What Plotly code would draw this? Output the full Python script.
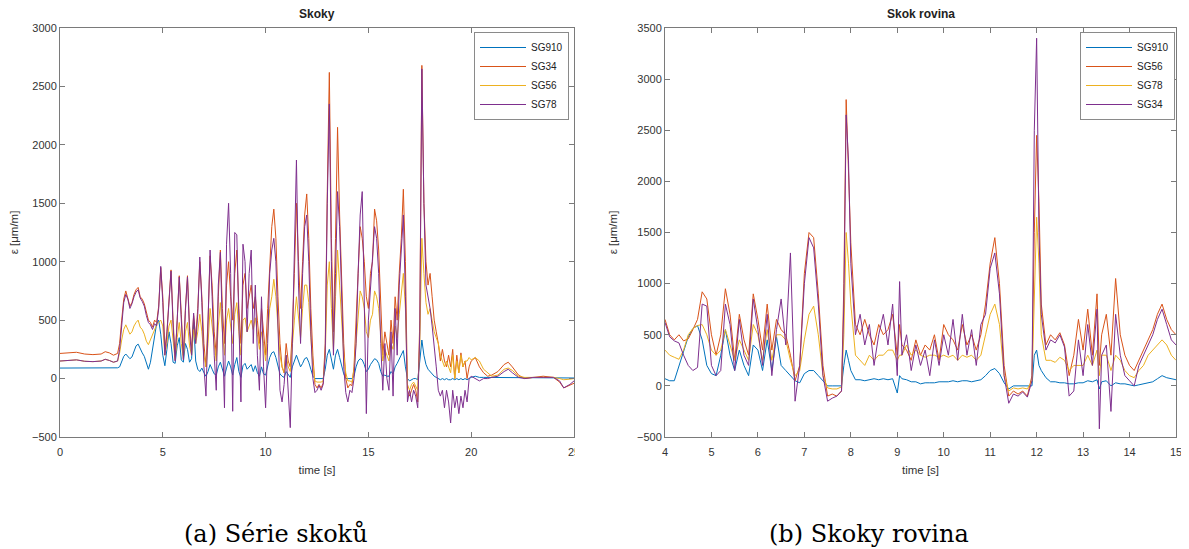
import plotly.graph_objects as go

# ---------------- Left chart: "Skoky" ----------------
left_t = [0, 0.4, 0.8, 1.2, 1.6, 2.0, 2.2, 2.4, 2.6, 2.8] \
    + [round(2.9 + 0.1 * i, 1) for i in range(172)] \
    + [20.2, 20.4, 20.6, 20.8, 21.0, 21.3, 21.6, 21.8, 22.0, 22.3,
       22.6, 23.0, 23.5, 24.0, 24.3, 24.5, 24.8, 25.0]

left_sg910 = [90, 90, 90, 90, 90, 90, 90, 90, 90, 92,
              100, 140, 190, 210, 190, 170, 185, 240, 280, 295,
              250, 220, 190, 130, 80, 140, 260, 380, 470, 500,
              380, 200, 110, 250, 400, 300, 140, 130, 280, 350,
              160, 140, 300, 250, 140, 170, 480, 150, 80, 60,
              90, 50, 20, 60, 120, 80, 40, 30, 100, 140,
              70, 20, 90, 150, 100, 30, 120, 180, 60, 10,
              110, 130, 80, 100, 120, 60, 110, 50, 20, 100,
              40, 30, 120, 180, 220, 230, 180, 100, 40, 20,
              10, 60, 30, 10, 100, 150, 200, 150, 100, 130,
              170, 180, 140, 80, 20, 0, 0, 0, 0, 0,
              80, 200, 250, 150, 80, 200, 250, 180, 100, 40,
              0, 0, 0, 0, 20, 100, 150, 170, 160, 120,
              60, 80, 120, 150, 170, 160, 130, 60, 20, 30,
              20, 20, 60, 40, 100, 130, 170, 200, 240, 100,
              0, -20, -10, 0, 0, -10, 150, 330, 200, 120,
              80, 60, 40, 20, 10, 0, -10, 0, -10, 0,
              -10, -10, 0, -10, 0, -10, 0, -10, 0, -10,
              0, 10,
              20, 10, 10, 10, 10, 10, 10, 10, 10, 10, 10, 10, 10, 10, 5, 5, 5, 5]

left_sg34 = [215, 220, 225, 210, 205, 210, 230, 220, 200, 215,
             300, 500, 680, 750, 690, 620, 650, 720, 760, 780,
             700, 680, 640, 560, 500, 480, 440, 500, 480, 620,
             950, 700, 250, 400, 700, 930, 500, 180, 500, 880,
             550, 200, 600, 880, 450, 250, 540, 350, 600, 1000,
             700, 300, 100, 500, 1050, 800, 400, 200, 700, 1100,
             600, 300, 800, 1000, 700, 500, 900, 1100, 600, 300,
             800, 900, 600, 700, 800, 600, 700, 500, 300, 600,
             400, 200, 600, 1000, 1300, 1450, 1200, 700, 300, 100,
             50, 300, 150, 100, 400, 900, 1500, 1000, 600, 1000,
             1400, 1580, 1200, 600, 200, -50, -80, -50, -80, -40,
             300, 1600, 2620, 1200, 400, 1200, 2150, 1400, 800, 300,
             0, -80, -50, -60, 100, 500, 1000, 1300, 1200, 1000,
             700, 600, 900, 1000, 1450, 1350, 1100, 600, 200, 400,
             300, 200, 500, 300, 700, 500, 900, 1200, 1620, 1000,
             -100, -150, -100, -50, -100, -200, 500, 2680, 1500, 1000,
             800, 900, 700, 500, 400, 300, 150, 250, 150, 100,
             200, 100, 250, 0, 200, 50, 220, 100, 150, 0,
             100, 150,
             180, 100, 50, 20, 30, 60, 120, 140, 100, 30, 0, 10, 20, 10, -30, -80, -60, -40]

left_sg56 = [150, 155, 160, 148, 145, 150, 165, 155, 140, 150,
             220, 330, 420, 460, 420, 380, 400, 450, 480, 500,
             440, 420, 380, 320, 290, 330, 380, 420, 460, 480,
             500, 450, 200, 300, 450, 500, 300, 160, 350, 480,
             300, 170, 400, 480, 280, 200, 420, 300, 400, 550,
             400, 200, 100, 300, 600, 450, 250, 150, 450, 650,
             400, 200, 500, 600, 450, 300, 550, 650, 400, 200,
             500, 520, 400, 450, 500, 420, 520, 380, 250, 400,
             300, 150, 350, 600, 700, 850, 700, 400, 200, 100,
             50, 200, 100, 60, 250, 500, 700, 500, 350, 600,
             800, 800, 650, 350, 120, -20, -30, -30, -30, -20,
             200, 800, 1000, 600, 250, 700, 1100, 800, 450, 200,
             50, -20, -20, -30, 80, 300, 600, 750, 700, 600,
             400, 350, 500, 550, 750, 700, 600, 400, 150, 250,
             200, 150, 300, 250, 450, 350, 550, 700, 900, 600,
             -50, -100, -50, -30, -60, -100, 300, 1200, 900, 650,
             550, 600, 500, 400, 350, 300, 200, 150, 100, 150,
             100, 50, 200, 0, 150, 50, 200, 100, 150, 150,
             180, 160,
             180, 150, 80, 50, 20, 30, 80, 90, 70, 20, 10, 10, 10, 10, 0, -10, -5, 0]

left_sg78 = [150, 155, 160, 148, 145, 150, 165, 155, 140, 150,
             250, 450, 650, 720, 680, 600, 640, 700, 740, 760,
             690, 660, 620, 540, 480, 460, 420, 470, 450, 600,
             960, 650, 200, 380, 680, 920, 450, 150, 500, 870,
             500, 160, 580, 870, 400, 200, 560, 300, 550, 1040,
             650, 100, -150, 400, 1100, 700, 200, -100, 800, 1080,
             400, -250, 1150, 1500, 900, -280, 1250, 1230, 500, -200,
             1150, 1000, 400, 900, 1100, 300, 800, 200, -100, 700,
             100, -250, 300, 900, 1100, 1200, 1000, 500, -100, -200,
             -50, 200, -150, -420, 300, 1100, 1870, 800, 300, 900,
             1300, 1400, 1000, 400, 0, -120, -100, -60, -100, -50,
             200, 1500, 2350, 1000, 200, 900, 1600, 1300, 600, 100,
             -120, -200, -100, -120, 0, 300, 900, 1400, 1600, 700,
             -300, 500, 800, 1100, 1300, 1200, 900, 300, -100, 300,
             0, -100, 400, -150, 600, 200, 800, 1100, 1400, 700,
             -200, -100, -200, -100, -150, -250, 400, 2650, 1500, 800,
             700, 600, 450, 300, 100, -100, -150, -100, -250, -100,
             -200, -380, -100, -250, -150, -300, -150, -250, -100, -200,
             0, 20,
             0, -20, 0, 0, 10, 20, 60, 80, 50, 10, 0, 10, 10, 10, -20, -80, -50, -20]

# ---------------- Right chart: "Skok rovina" ----------------
right_t = [4.0, 4.1, 4.2, 4.3, 4.4, 4.5, 4.6, 4.7, 4.8, 4.9,
           5.0, 5.1, 5.2, 5.3, 5.4, 5.5, 5.6, 5.7, 5.8, 5.9,
           6.0, 6.1, 6.2, 6.3, 6.4, 6.5, 6.6, 6.7, 6.8, 6.9,
           7.0, 7.1, 7.2, 7.3, 7.4, 7.5, 7.6, 7.7, 7.8, 7.85,
           7.9, 7.95, 8.0, 8.1, 8.2, 8.3, 8.4, 8.5, 8.6, 8.7,
           8.8, 8.9, 9.0, 9.05, 9.1, 9.2, 9.3, 9.4, 9.5, 9.6,
           9.7, 9.8, 9.9, 10.0, 10.1, 10.2, 10.3, 10.4, 10.5, 10.6,
           10.7, 10.8, 10.9, 11.0, 11.1, 11.2, 11.3, 11.4, 11.5, 11.6,
           11.7, 11.8, 11.9, 11.95, 12.0, 12.05, 12.1, 12.2, 12.3, 12.4,
           12.5, 12.6, 12.7, 12.8, 12.9, 13.0, 13.1, 13.2, 13.3, 13.35,
           13.4, 13.5, 13.6, 13.7, 13.8, 13.9, 14.0, 14.1, 14.2, 14.3,
           14.4, 14.5, 14.6, 14.7, 14.8, 14.9, 15.0]

right_sg910 = [70, 50, 50, 200, 350, 480, 560, 590, 450, 200,
               120, 100, 300, 550, 300, 150, 350, 200, 100, 400,
               350, 150, 450, 150, 480, 200, 150, 100, 50, 30,
               120, 150, 150, 100, 50, 0, 0, 0, 0, 200,
               350, 250, 150, 60, 60, 50, 60, 70, 60, 70,
               60, 70, -70, 100, 70, 60, 40, 40, 20, 30,
               30, 30, 40, 40, 40, 50, 40, 50, 50, 40,
               50, 60, 100, 150, 170, 120, 30, -30, 0, 0,
               0, 0, 0, 300, 350, 200, 150, 80, 40, 40,
               30, 30, 20, 20, 30, 30, 50, 40, 60, -30,
               40, 50, 0, 30, 20, 20, 10, 0, 10, 20,
               30, 40, 70, 100, 80, 70, 60]

right_sg56 = [650, 500, 450, 500, 440, 460, 550, 650, 920, 850,
              500, 300, 500, 950, 700, 250, 700, 450, 300, 900,
              650, 350, 800, 350, 650, 550, 500, 300, 50, 200,
              1100, 1500, 1450, 900, 200, -100, -80, -100, -50, 1000,
              2800, 2100, 1400, 600, 500, 650, 500, 400, 600, 500,
              550, 700, 300, 600, 400, 350, 250, 450, 300, 400,
              350, 500, 250, 600, 500, 450, 350, 600, 400, 500,
              350, 500, 800, 1200, 1450, 1000, 200, -100, -50, -80,
              -50, -100, 100, 1500, 2450, 1800, 800, 400, 500, 450,
              520, 400, 100, 300, 650, 350, 750, 300, 900, 200,
              500, 700, 300, 1050, 500, 300, 200, 150, 250, 350,
              450, 550, 700, 800, 650, 550, 500]

right_sg78 = [350, 300, 280, 260, 350, 500, 560, 590, 600, 500,
              350, 300, 350, 550, 400, 250, 450, 350, 250, 600,
              500, 250, 550, 250, 500, 500, 450, 250, 100, 150,
              450, 700, 780, 500, 100, -20, -30, -30, -10, 500,
              1500, 1200, 800, 300, 250, 200, 300, 250, 300, 300,
              350, 350, 250, 300, 300, 400, 300, 350, 300, 280,
              300, 300, 280, 300, 280, 300, 250, 300, 280, 300,
              250, 300, 500, 700, 800, 600, 100, -50, -20, -30,
              -20, -30, 50, 1000, 1650, 1200, 500, 250, 250, 230,
              280, 250, 150, 200, 200, 200, 300, 200, 350, 100,
              300, 300, 150, 300, 250, 150, 100, 80, 150, 200,
              300, 350, 400, 450, 400, 300, 250]

right_sg34 = [620, 480, 440, 420, 300, 200, 150, 180, 800, 780,
              200, 100, 150, 800, 600, 150, 650, 300, 200, 850,
              550, 200, 700, 100, 550, 850, 400, 1300, -150, 200,
              1000, 1450, 1350, 800, 100, -150, -120, -100, -50, 800,
              2650, 2200, 1200, 500, 700, 400, 600, 200, 500, 700,
              400, 800, 100, 1020, 300, 500, 150, 400, 200, 350,
              100, 450, 200, 500, 300, 650, 250, 700, 300, 550,
              200, 600, 700, 1150, 1300, 900, 100, -170, -80, -100,
              -60, -110, 50, 2500, 3400, 1500, 700, 350, 450, 420,
              500, 380, -100, -50, 450, 100, 600, 200, 750, -420,
              300, 400, -250, 700, 300, 100, 50, 0, 200, 300,
              400, 500, 650, 750, 600, 450, 400]

left_names = ["SG910", "SG34", "SG56", "SG78"]
right_names = ["SG910", "SG56", "SG78", "SG34"]
colors = ["#0072BD", "#D95319", "#EDB120", "#7E2F8E"]

# The page body adds an 8 px margin, so the figure is 8 px smaller and
# all screen positions below are converted with that offset.
OFF = 8
W, H = 1189 - OFF, 549 - OFF
def px(x):
    return (x - OFF) / W
def py(y):
    return (H - (y - OFF)) / H

fig = go.Figure()

for name, ys, c in zip(left_names, [left_sg910, left_sg34, left_sg56, left_sg78], colors):
    fig.add_trace(go.Scatter(x=left_t, y=ys, mode="lines", name=name,
                             line=dict(color=c, width=1), xaxis="x", yaxis="y",
                             legend="legend"))
for name, ys, c in zip(right_names, [right_sg910, right_sg56, right_sg78, right_sg34], colors):
    fig.add_trace(go.Scatter(x=right_t, y=ys, mode="lines", name=name,
                             line=dict(color=c, width=1), xaxis="x2", yaxis="y2",
                             legend="legend2"))

axis_common = dict(showgrid=False, zeroline=False, showline=True, linecolor="#7a7a7a",
                   linewidth=1, mirror="ticks", ticks="inside", ticklen=5, automargin=False,
                   tickcolor="#7a7a7a", tickfont=dict(family="Liberation Sans", size=11, color="#333333"),
                   title_font=dict(family="Liberation Sans", size=11.5, color="#333333"))

L0, L1 = 60, 574
R0, R1 = 665, 1176
T, B = 28, 437

legend_common = dict(xanchor="right", yanchor="top",
                     bgcolor="white", bordercolor="#8a8a8a", borderwidth=1,
                     font=dict(family="Liberation Sans", size=10, color="#222222"),
                     itemwidth=46, tracegroupgap=0)

fig.update_layout(
    width=W, height=H, paper_bgcolor="white", plot_bgcolor="white",
    margin=dict(l=0, r=0, t=0, b=0),
    xaxis=dict(domain=[px(L0), px(L1)], range=[0, 25], tickvals=[0, 5, 10, 15, 20, 25],
               ticklabelstandoff=5,
               title=dict(text="time [s]", standoff=8), anchor="y", **axis_common),
    yaxis=dict(domain=[py(B), py(T)], range=[-500, 3000], tickvals=list(range(-500, 3001, 500)),
               title=dict(text="ε [μm/m]", standoff=16), anchor="x", **axis_common),
    xaxis2=dict(domain=[px(R0), px(R1)], range=[4, 15], tickvals=list(range(4, 16)),
                ticklabelstandoff=5,
                title=dict(text="time [s]", standoff=8), anchor="y2", **axis_common),
    yaxis2=dict(domain=[py(B), py(T)], range=[-500, 3500], tickvals=list(range(-500, 3501, 500)),
                title=dict(text="ε [μm/m]", standoff=16), anchor="x2", **axis_common),
    legend=dict(x=px(569), y=py(32), **legend_common),
    legend2=dict(x=px(1175), y=py(32), **legend_common),
    annotations=[
        dict(text="<b>Skoky</b>", x=px((L0 + L1) / 2), y=py(14), xref="paper", yref="paper",
             xanchor="center", yanchor="middle", showarrow=False,
             font=dict(family="Liberation Sans", size=12, color="#222222")),
        dict(text="<b>Skok rovina</b>", x=px((R0 + R1) / 2), y=py(14), xref="paper", yref="paper",
             xanchor="center", yanchor="middle", showarrow=False,
             font=dict(family="Liberation Sans", size=12, color="#222222")),
        dict(text="(a) Série skoků", x=px(276), y=py(534), xref="paper", yref="paper",
             xanchor="center", yanchor="middle", showarrow=False,
             font=dict(family="DejaVu Serif", size=24, color="#000000")),
        dict(text="(b) Skoky rovina", x=px(869), y=py(534), xref="paper", yref="paper",
             xanchor="center", yanchor="middle", showarrow=False,
             font=dict(family="DejaVu Serif", size=24, color="#000000")),
    ],
    shapes=[dict(type="rect", xref="paper", yref="paper", layer="above",
                 x0=px(575), x1=px(595), y0=py(468), y1=py(443),
                 fillcolor="white", line=dict(width=0))],
)

fig.write_html("out.html")
